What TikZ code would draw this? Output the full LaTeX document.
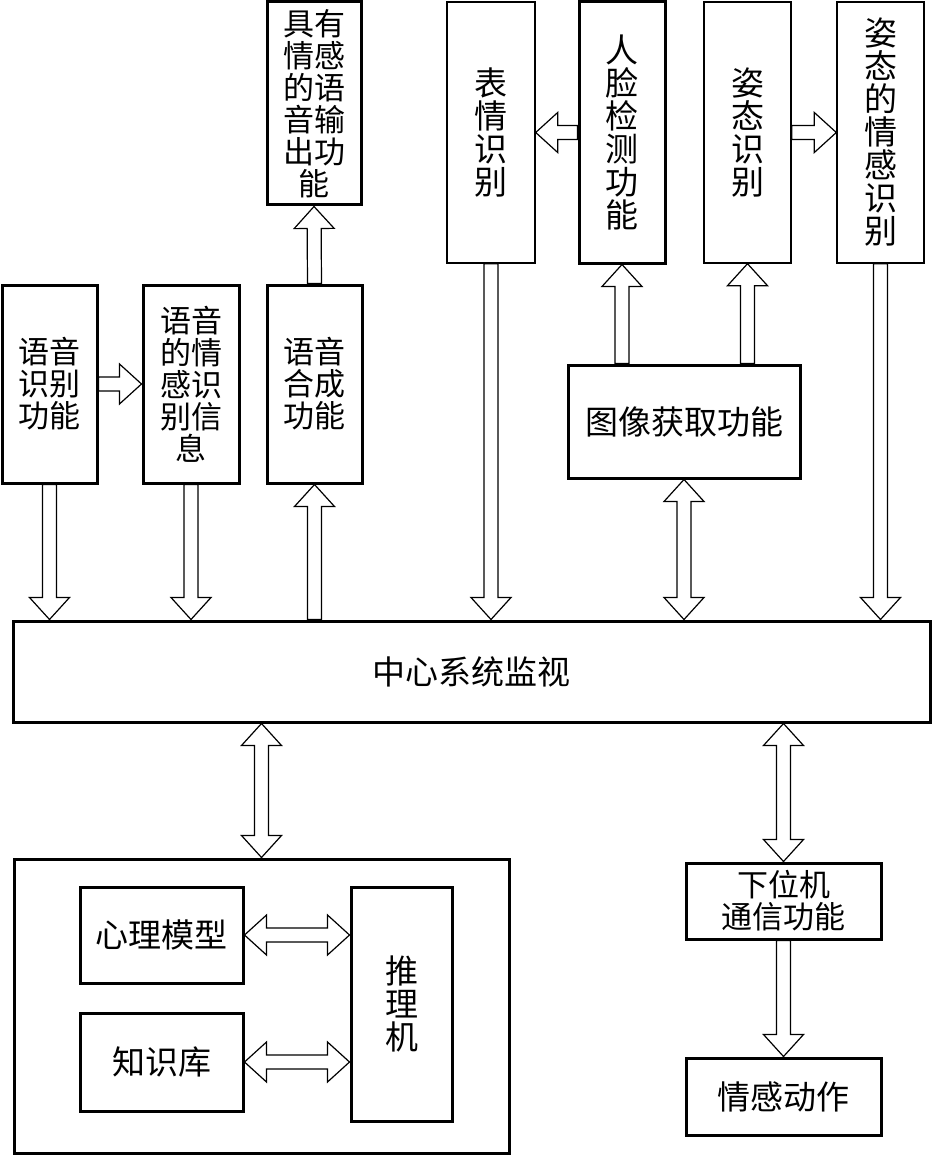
\documentclass[tikz,border=0pt]{standalone}
\usepackage{fontspec}
\newfontfamily\cjk{Noto Sans CJK SC}
\usetikzlibrary{calc}

\newcommand{\arrshaft}{3.5pt}
\newcommand{\arrhead}{10pt}
\newcommand{\arrlen}{11pt}
% strzalka w jedna strone
\newcommand{\onearrow}[2]{%
	\coordinate (hd) at ($(#2)!\arrlen!(#1)$);
	\draw[blockarrow] ($(#1)!\arrshaft!90:(#2)$) -- ($(hd)!\arrshaft!90:(#2)$) -- ($(hd)!\arrhead!90:(#2)$)
		-- (#2) -- ($(hd)!\arrhead!-90:(#2)$) -- ($(hd)!\arrshaft!-90:(#2)$) -- ($(#1)!\arrshaft!-90:(#2)$) -- cycle;}
% strzalka w obie strony
\newcommand{\twoarrow}[2]{%
	\coordinate (ha) at ($(#1)!\arrlen!(#2)$);
	\coordinate (hb) at ($(#2)!\arrlen!(#1)$);
	\draw[blockarrow] (#1) -- ($(ha)!\arrhead!90:(#2)$) -- ($(ha)!\arrshaft!90:(#2)$) -- ($(hb)!\arrshaft!90:(#2)$)
		-- ($(hb)!\arrhead!90:(#2)$) -- (#2) -- ($(hb)!\arrhead!-90:(#2)$) -- ($(hb)!\arrshaft!-90:(#2)$)
		-- ($(ha)!\arrshaft!-90:(#2)$) -- ($(ha)!\arrhead!-90:(#2)$) -- cycle;}

\begin{document}
\begin{tikzpicture}[x=0.5pt, y=-0.5pt,
	every node/.style={font=\cjk\fontsize{16.5pt}{16.5pt}\selectfont, inner sep=0pt, align=center},
	tight/.style={font=\cjk\fontsize{15.5pt}{16pt}\selectfont},
	wh/.style 2 args={minimum width=#1*0.5pt, minimum height=#2*0.5pt},
	thickbox/.style={draw, rectangle, line width=1.5pt},
	thinbox/.style={draw, rectangle, line width=0.7pt},
	blockarrow/.style={draw, line width=0.6pt, fill=white, line join=miter}]
\useasboundingbox (0,0) rectangle (932,1155);
% gorny rzad
\node[thickbox, tight, wh={94}{203}] (jy) at (314,103.5) {具有\\情感\\的语\\音输\\出功\\能};
\node[thinbox, wh={88}{261}] (bq) at (491,132.5) {表\\情\\识\\别};
\node[thickbox, wh={86}{261}] (rl) at (622,132.5) {人\\脸\\检\\测\\功\\能};
\node[thinbox, wh={87}{261}] (zt) at (747.5,132.5) {姿\\态\\识\\别};
\node[thinbox, wh={87}{261}] (zq) at (880.5,132.5) {姿\\态\\的\\情\\感\\识\\别};
\node[thickbox, tight, wh={95}{198}] (ys) at (49.5,384) {语音\\识别\\功能};
\node[thickbox, tight, wh={96}{198}] (yq) at (191,384) {语音\\的情\\感识\\别信\\息};
\node[thickbox, tight, wh={95}{198}] (hc) at (314.5,384) {语音\\合成\\功能};
\node[thickbox, wh={232}{113}] (tx) at (684,421.5) {图像获取功能};
\node[thickbox, wh={917}{101}] (zx) at (471.5,671.5) {中心系统监视};
% dolna czesc
\node[thickbox, wh={495}{294}] (bx) at (261.5,1006) {};
\node[thickbox, wh={163}{96}] (xl) at (161.5,935) {心理模型};
\node[thickbox, wh={163}{98}] (zs) at (161.5,1062) {知识库};
\node[thickbox, wh={101}{234}] (tl) at (401.5,1004) {推\\理\\机};
\node[thickbox, tight, wh={195}{76}] (xw) at (783.5,901) {下位机\\通信功能};
\node[thickbox, wh={195}{77}] (qd) at (783.5,1096.5) {情感动作};

\onearrow{rl.west}{bq.east}
\onearrow{zt.east}{zq.west}
\onearrow{hc.north}{jy.south}
\onearrow{ys.east}{yq.west}
\foreach \n in {rl, zt} {
	\coordinate (\n-u) at (\n.south |- tx.north);
	\onearrow{\n-u}{\n.south}
}
\foreach \n in {ys, yq, bq, zq} {
	\coordinate (\n-d) at (\n.south |- zx.north);
	\onearrow{\n.south}{\n-d}
}
\coordinate (hc-d) at (hc.south |- zx.north);
\onearrow{hc-d}{hc.south}
\coordinate (tx-d) at (tx.south |- zx.north);
\twoarrow{tx.south}{tx-d}
\foreach \n in {bx, xw} {
	\coordinate (\n-u) at (\n.north |- zx.south);
	\twoarrow{\n-u}{\n.north}
}
\onearrow{xw.south}{qd.north}
\foreach \n in {xl, zs} {
	\coordinate (\n-r) at (\n.east -| tl.west);
	\twoarrow{\n.east}{\n-r}
}
\end{tikzpicture}
\end{document}
